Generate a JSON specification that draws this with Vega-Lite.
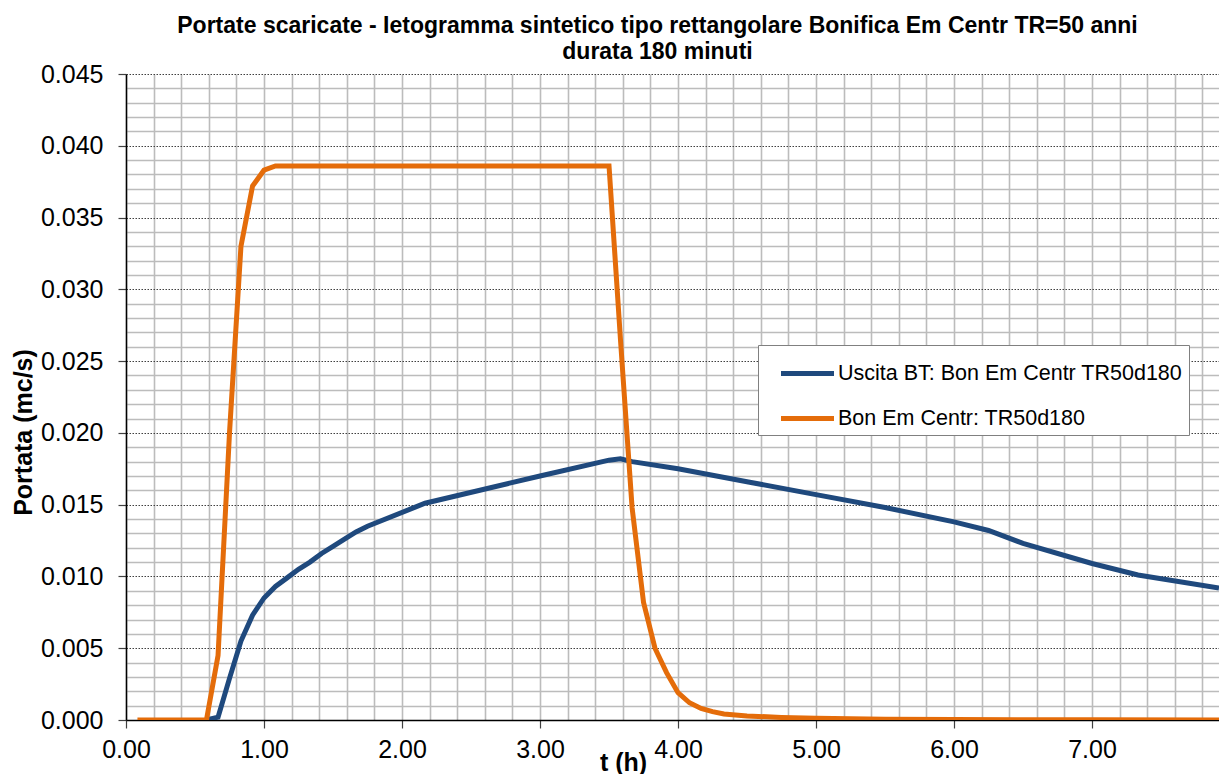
{
  "$schema": "https://vega.github.io/schema/vega-lite/v6.json",
  "width": 1093,
  "height": 646,
  "autosize": {"type": "none"},
  "padding": {"left": 126, "top": 74, "right": 0, "bottom": 54},
  "background": "white",
  "title": {
    "text": ["Portate scaricate - Ietogramma sintetico tipo rettangolare Bonifica Em Centr TR=50 anni", "durata 180 minuti"],
    "font": "Liberation Sans",
    "fontSize": 23,
    "fontWeight": "bold",
    "color": "black",
    "anchor": "middle",
    "frame": "group",
    "dx": -15,
    "offset": -2,
    "lineHeight": 26
  },
  "config": {
    "view": {"stroke": null},
    "axis": {
      "labelFont": "Liberation Sans",
      "labelFontSize": 25,
      "labelColor": "black",
      "titleFont": "Liberation Sans",
      "titleFontSize": 25,
      "titleFontWeight": "bold",
      "titleColor": "black",
      "domainColor": "black",
      "domainWidth": 1.5,
      "tickColor": "#404040",
      "tickWidth": 1.2,
      "tickSize": 8,
      "gridWidth": 1.6
    }
  },
  "data": {"values": [
    {"t": 0.583, "q": 0, "serie": "Uscita BT: Bon Em Centr TR50d180"},
    {"t": 0.667, "q": 0.0002, "serie": "Uscita BT: Bon Em Centr TR50d180"},
    {"t": 0.75, "q": 0.0029, "serie": "Uscita BT: Bon Em Centr TR50d180"},
    {"t": 0.833, "q": 0.0055, "serie": "Uscita BT: Bon Em Centr TR50d180"},
    {"t": 0.917, "q": 0.0073, "serie": "Uscita BT: Bon Em Centr TR50d180"},
    {"t": 1.0, "q": 0.0085, "serie": "Uscita BT: Bon Em Centr TR50d180"},
    {"t": 1.083, "q": 0.0093, "serie": "Uscita BT: Bon Em Centr TR50d180"},
    {"t": 1.167, "q": 0.0099, "serie": "Uscita BT: Bon Em Centr TR50d180"},
    {"t": 1.25, "q": 0.0105, "serie": "Uscita BT: Bon Em Centr TR50d180"},
    {"t": 1.333, "q": 0.011, "serie": "Uscita BT: Bon Em Centr TR50d180"},
    {"t": 1.417, "q": 0.0116, "serie": "Uscita BT: Bon Em Centr TR50d180"},
    {"t": 1.5, "q": 0.0121, "serie": "Uscita BT: Bon Em Centr TR50d180"},
    {"t": 1.583, "q": 0.0126, "serie": "Uscita BT: Bon Em Centr TR50d180"},
    {"t": 1.667, "q": 0.0131, "serie": "Uscita BT: Bon Em Centr TR50d180"},
    {"t": 1.75, "q": 0.0135, "serie": "Uscita BT: Bon Em Centr TR50d180"},
    {"t": 2.167, "q": 0.0151, "serie": "Uscita BT: Bon Em Centr TR50d180"},
    {"t": 3.0, "q": 0.017, "serie": "Uscita BT: Bon Em Centr TR50d180"},
    {"t": 3.5, "q": 0.0181, "serie": "Uscita BT: Bon Em Centr TR50d180"},
    {"t": 3.583, "q": 0.0182, "serie": "Uscita BT: Bon Em Centr TR50d180"},
    {"t": 3.667, "q": 0.018, "serie": "Uscita BT: Bon Em Centr TR50d180"},
    {"t": 4.0, "q": 0.0175, "serie": "Uscita BT: Bon Em Centr TR50d180"},
    {"t": 4.5, "q": 0.0166, "serie": "Uscita BT: Bon Em Centr TR50d180"},
    {"t": 5.0, "q": 0.0157, "serie": "Uscita BT: Bon Em Centr TR50d180"},
    {"t": 5.5, "q": 0.0148, "serie": "Uscita BT: Bon Em Centr TR50d180"},
    {"t": 6.0, "q": 0.0138, "serie": "Uscita BT: Bon Em Centr TR50d180"},
    {"t": 6.25, "q": 0.0132, "serie": "Uscita BT: Bon Em Centr TR50d180"},
    {"t": 6.5, "q": 0.0123, "serie": "Uscita BT: Bon Em Centr TR50d180"},
    {"t": 7.0, "q": 0.0109, "serie": "Uscita BT: Bon Em Centr TR50d180"},
    {"t": 7.333, "q": 0.0101, "serie": "Uscita BT: Bon Em Centr TR50d180"},
    {"t": 7.92, "q": 0.0092, "serie": "Uscita BT: Bon Em Centr TR50d180"},
    {"t": 0.083, "q": 0, "serie": "Bon Em Centr: TR50d180"},
    {"t": 0.583, "q": 0, "serie": "Bon Em Centr: TR50d180"},
    {"t": 0.667, "q": 0.0045, "serie": "Bon Em Centr: TR50d180"},
    {"t": 0.75, "q": 0.02, "serie": "Bon Em Centr: TR50d180"},
    {"t": 0.833, "q": 0.033, "serie": "Bon Em Centr: TR50d180"},
    {"t": 0.917, "q": 0.0372, "serie": "Bon Em Centr: TR50d180"},
    {"t": 1.0, "q": 0.0383, "serie": "Bon Em Centr: TR50d180"},
    {"t": 1.083, "q": 0.0386, "serie": "Bon Em Centr: TR50d180"},
    {"t": 1.167, "q": 0.0386, "serie": "Bon Em Centr: TR50d180"},
    {"t": 3.5, "q": 0.0386, "serie": "Bon Em Centr: TR50d180"},
    {"t": 3.583, "q": 0.0265, "serie": "Bon Em Centr: TR50d180"},
    {"t": 3.667, "q": 0.0148, "serie": "Bon Em Centr: TR50d180"},
    {"t": 3.75, "q": 0.0082, "serie": "Bon Em Centr: TR50d180"},
    {"t": 3.833, "q": 0.005, "serie": "Bon Em Centr: TR50d180"},
    {"t": 3.917, "q": 0.0033, "serie": "Bon Em Centr: TR50d180"},
    {"t": 4.0, "q": 0.0019, "serie": "Bon Em Centr: TR50d180"},
    {"t": 4.083, "q": 0.0012, "serie": "Bon Em Centr: TR50d180"},
    {"t": 4.167, "q": 0.0008, "serie": "Bon Em Centr: TR50d180"},
    {"t": 4.25, "q": 0.00058, "serie": "Bon Em Centr: TR50d180"},
    {"t": 4.333, "q": 0.00042, "serie": "Bon Em Centr: TR50d180"},
    {"t": 4.5, "q": 0.00028, "serie": "Bon Em Centr: TR50d180"},
    {"t": 4.75, "q": 0.00018, "serie": "Bon Em Centr: TR50d180"},
    {"t": 5.0, "q": 0.00012, "serie": "Bon Em Centr: TR50d180"},
    {"t": 5.5, "q": 0.00006, "serie": "Bon Em Centr: TR50d180"},
    {"t": 6.0, "q": 0.00003, "serie": "Bon Em Centr: TR50d180"},
    {"t": 7.0, "q": 0.00001, "serie": "Bon Em Centr: TR50d180"},
    {"t": 7.92, "q": 0, "serie": "Bon Em Centr: TR50d180"}
  ]},
  "encoding": {
    "x": {
      "field": "t",
      "type": "quantitative",
      "scale": {"domain": [0, 7.92], "nice": false, "zero": false},
      "axis": {
        "title": "t (h)",
        "values": [0, 0.2, 0.4, 0.6, 0.8, 1, 1.2, 1.4, 1.6, 1.8, 2, 2.2, 2.4, 2.6, 2.8, 3, 3.2, 3.4, 3.6, 3.8, 4, 4.2, 4.4, 4.6, 4.8, 5, 5.2, 5.4, 5.6, 5.8, 6, 6.2, 6.4, 6.6, 6.8, 7, 7.2, 7.4, 7.6, 7.8],
        "labelExpr": "abs(datum.value - round(datum.value)) < 0.001 ? format(datum.value, '.2f') : ''",
        "tickOpacity": {"condition": {"test": "abs(datum.value - round(datum.value)) < 0.001", "value": 1}, "value": 0},
        "grid": true,
        "gridColor": "#bcbcbc",
        "labelPadding": 9,
        "labelFlush": false,
        "labelOverlap": false,
        "titleX": 497,
        "titleY": 42,
        "titleAlign": "center",
        "titleBaseline": "middle"
      }
    },
    "y": {
      "field": "q",
      "type": "quantitative",
      "scale": {"domain": [0, 0.045], "nice": false},
      "axis": {
        "title": "Portata (mc/s)",
        "values": [0, 0.001, 0.002, 0.003, 0.004, 0.005, 0.006, 0.007, 0.008, 0.009, 0.01, 0.011, 0.012, 0.013, 0.014, 0.015, 0.016, 0.017, 0.018, 0.019, 0.02, 0.021, 0.022, 0.023, 0.024, 0.025, 0.026, 0.027, 0.028, 0.029, 0.03, 0.031, 0.032, 0.033, 0.034, 0.035, 0.036, 0.037, 0.038, 0.039, 0.04, 0.041, 0.042, 0.043, 0.044, 0.045],
        "labelExpr": "round(datum.value * 1000) % 5 == 0 ? format(datum.value, '.3f') : ''",
        "tickOpacity": {"condition": {"test": "round(datum.value * 1000) % 5 == 0", "value": 1}, "value": 0},
        "grid": true,
        "gridColor": {"condition": {"test": "round(datum.value * 1000) % 5 == 0", "value": "#404040"}, "value": "#bcbcbc"},
        "gridDash": {"condition": {"test": "round(datum.value * 1000) % 5 == 0", "value": [1.5, 1.5]}, "value": []},
        "gridWidth": {"condition": {"test": "round(datum.value * 1000) % 5 == 0", "value": 1}, "value": 1.6},
        "labelPadding": 15,
        "labelFlush": false,
        "labelOverlap": false,
        "titleX": -103,
        "titleY": 358,
        "titleAngle": 270,
        "titleAlign": "center",
        "titleBaseline": "middle"
      }
    },
    "color": {
      "field": "serie",
      "type": "nominal",
      "scale": {"domain": ["Uscita BT: Bon Em Centr TR50d180", "Bon Em Centr: TR50d180"], "range": ["#1F497D", "#E46C0A"]},
      "legend": {
        "title": null,
        "orient": "none",
        "legendX": 632,
        "legendY": 271,
        "padding": 6,
        "symbolType": "M-0.275,0H2.375",
        "symbolSize": 1600,
        "symbolStrokeWidth": 5,
        "labelOffset": 29,
        "rowPadding": 12,
        "labelFont": "Liberation Sans",
        "labelFontSize": 21.5,
        "labelColor": "black",
        "labelLimit": 500,
        "strokeColor": "#808080",
        "fillColor": "white"
      }
    }
  },
  "layer": [
    {
      "transform": [{"filter": "datum.serie == 'Uscita BT: Bon Em Centr TR50d180'"}],
      "mark": {"type": "line", "strokeWidth": 5, "clip": true}
    },
    {
      "transform": [{"filter": "datum.serie == 'Bon Em Centr: TR50d180'"}],
      "mark": {"type": "line", "strokeWidth": 5, "clip": true}
    }
  ]
}
